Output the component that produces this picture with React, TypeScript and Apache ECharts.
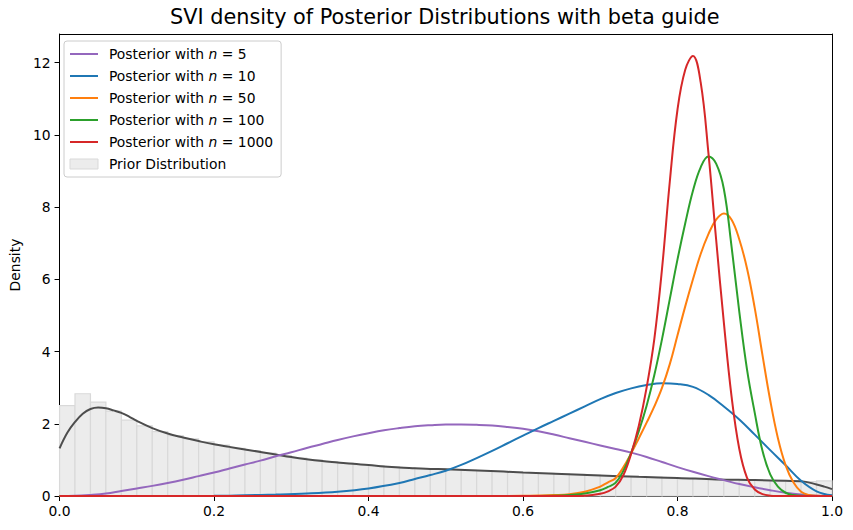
import React, { useEffect, useRef } from 'react';
import * as echarts from 'echarts';

const FONT = 'DejaVu Sans';

// Prior histogram: 50 bins of width 0.02 on [0, 1]
const PRIOR_BIN_WIDTH = 0.02;
const PRIOR_HEIGHTS = [
  2.5, 2.83, 2.6, 2.35, 2.1, 1.94, 1.78, 1.67, 1.58, 1.5,
  1.41, 1.32, 1.26, 1.19, 1.12, 1.05, 1.0, 0.95, 0.91, 0.87,
  0.84, 0.81, 0.78, 0.76, 0.75, 0.73, 0.71, 0.7, 0.68, 0.66,
  0.65, 0.63, 0.61, 0.6, 0.58, 0.56, 0.54, 0.53, 0.52, 0.5,
  0.49, 0.47, 0.46, 0.45, 0.44, 0.43, 0.42, 0.41, 0.4, 0.42,
];

// Prior KDE
const KDE_X = [0, 0.01, 0.02, 0.03, 0.04, 0.05, 0.06, 0.07, 0.08, 0.09, 0.1, 0.12, 0.14, 0.16, 0.18, 0.2, 0.22, 0.24, 0.26, 0.28, 0.3, 0.32, 0.34, 0.36, 0.38, 0.4, 0.42, 0.44, 0.46, 0.48, 0.5, 0.55, 0.6, 0.65, 0.7, 0.75, 0.8, 0.85, 0.9, 0.94, 0.96, 0.98, 0.99, 1.0];
const KDE_Y = [1.32, 1.75, 2.05, 2.28, 2.41, 2.45, 2.43, 2.37, 2.3, 2.2, 2.08, 1.88, 1.73, 1.62, 1.52, 1.43, 1.36, 1.29, 1.22, 1.15, 1.08, 1.02, 0.97, 0.93, 0.89, 0.86, 0.82, 0.79, 0.77, 0.75, 0.74, 0.7, 0.65, 0.61, 0.57, 0.53, 0.5, 0.46, 0.44, 0.42, 0.41, 0.32, 0.26, 0.19];

// Posterior n = 5
const N5_X = [0, 0.02, 0.04, 0.06, 0.08, 0.1, 0.12, 0.14, 0.16, 0.18, 0.2, 0.22, 0.24, 0.26, 0.28, 0.3, 0.32, 0.34, 0.36, 0.38, 0.4, 0.42, 0.44, 0.46, 0.48, 0.5, 0.52, 0.54, 0.56, 0.58, 0.6, 0.62, 0.64, 0.66, 0.68, 0.7, 0.72, 0.74, 0.76, 0.78, 0.8, 0.82, 0.84, 0.86, 0.88, 0.9, 0.92, 0.94, 0.96, 0.98, 1.0];
const N5_Y = [0, 0.005, 0.03, 0.07, 0.14, 0.21, 0.28, 0.36, 0.45, 0.55, 0.65, 0.76, 0.87, 0.98, 1.1, 1.21, 1.33, 1.44, 1.55, 1.65, 1.74, 1.82, 1.88, 1.93, 1.96, 1.98, 1.98, 1.97, 1.95, 1.91, 1.86, 1.79, 1.7, 1.6, 1.5, 1.4, 1.3, 1.2, 1.08, 0.94, 0.8, 0.67, 0.55, 0.44, 0.33, 0.24, 0.16, 0.09, 0.04, 0.01, 0];

// Posterior n = 10
const N10_X = [0, 0.1, 0.2, 0.24, 0.28, 0.32, 0.36, 0.4, 0.44, 0.46, 0.48, 0.5, 0.52, 0.54, 0.56, 0.58, 0.6, 0.62, 0.64, 0.66, 0.68, 0.7, 0.72, 0.74, 0.76, 0.78, 0.8, 0.82, 0.84, 0.86, 0.88, 0.9, 0.92, 0.94, 0.96, 0.98, 1.0];
const N10_Y = [0, 0, 0.005, 0.02, 0.04, 0.07, 0.12, 0.21, 0.36, 0.47, 0.58, 0.7, 0.86, 1.05, 1.25, 1.46, 1.67, 1.88, 2.08, 2.28, 2.48, 2.68, 2.85, 2.98, 3.07, 3.12, 3.1, 3.02, 2.8, 2.48, 2.12, 1.7, 1.27, 0.85, 0.42, 0.13, 0.02];

// Posterior n = 50
const N50_X = [0, 0.55, 0.6, 0.62, 0.64, 0.66, 0.68, 0.7, 0.71, 0.72, 0.73, 0.74, 0.75, 0.76, 0.77, 0.78, 0.79, 0.8, 0.81, 0.82, 0.83, 0.84, 0.85, 0.86, 0.87, 0.88, 0.89, 0.9, 0.91, 0.92, 0.93, 0.94, 0.95, 0.96, 0.97, 0.98, 1.0];
const N50_Y = [0, 0, 0.005, 0.012, 0.025, 0.05, 0.12, 0.26, 0.38, 0.5, 0.8, 1.18, 1.6, 2.03, 2.48, 3.0, 3.65, 4.45, 5.25, 6.0, 6.7, 7.25, 7.65, 7.82, 7.65, 7.1, 6.3, 5.2, 3.9, 2.65, 1.6, 0.85, 0.38, 0.12, 0.03, 0.005, 0];

// Posterior n = 100
const N100_X = [0, 0.6, 0.64, 0.66, 0.68, 0.7, 0.71, 0.72, 0.73, 0.74, 0.75, 0.76, 0.77, 0.78, 0.79, 0.8, 0.81, 0.82, 0.83, 0.84, 0.85, 0.86, 0.87, 0.88, 0.89, 0.9, 0.91, 0.92, 0.93, 0.94, 0.95, 0.96, 0.98, 1.0];
const N100_Y = [0, 0, 0.01, 0.03, 0.07, 0.16, 0.25, 0.37, 0.7, 1.2, 1.8, 2.5, 3.35, 4.35, 5.45, 6.55, 7.55, 8.45, 9.1, 9.4, 9.2, 8.5, 6.9, 5.1, 3.5, 2.3, 1.25, 0.6, 0.26, 0.09, 0.025, 0.005, 0, 0];

// Posterior n = 1000
const N1000_X = [0, 0.6, 0.66, 0.68, 0.7, 0.71, 0.72, 0.73, 0.74, 0.75, 0.76, 0.77, 0.78, 0.79, 0.8, 0.81, 0.82, 0.83, 0.84, 0.85, 0.86, 0.87, 0.88, 0.89, 0.9, 0.91, 0.92, 0.93, 0.95, 1.0];
const N1000_Y = [0, 0, 0.003, 0.01, 0.06, 0.13, 0.26, 0.58, 1.17, 1.95, 3.0, 4.35, 6.3, 8.7, 10.7, 11.8, 12.18, 11.45, 9.5, 7.1, 4.8, 2.75, 1.3, 0.5, 0.18, 0.05, 0.01, 0.002, 0, 0];

const POSTERIORS = [
  { name: 'Posterior with n = 5', color: '#9467bd', xs: N5_X, ys: N5_Y },
  { name: 'Posterior with n = 10', color: '#1f77b4', xs: N10_X, ys: N10_Y },
  { name: 'Posterior with n = 50', color: '#ff7f0e', xs: N50_X, ys: N50_Y },
  { name: 'Posterior with n = 100', color: '#2ca02c', xs: N100_X, ys: N100_Y },
  { name: 'Posterior with n = 1000', color: '#d62728', xs: N1000_X, ys: N1000_Y },
];

const zip = (xs: number[], ys: number[]) => xs.map((x, i) => [x, ys[i]]);

export default function App() {
  const ref = useRef<HTMLDivElement>(null);
  useEffect(() => {
    document.body.style.margin = '0';
    const chart = echarts.init(ref.current!, undefined, { renderer: 'svg' });
    const priorData = PRIOR_HEIGHTS.map((h, i) => [i * PRIOR_BIN_WIDTH, (i + 1) * PRIOR_BIN_WIDTH, h]);
    const fs = 13.89;
    chart.setOption({
      animation: false,
      backgroundColor: '#ffffff',
      title: {
        text: 'SVI density of Posterior Distributions with beta guide',
        left: 444.75,
        top: 6,
        textAlign: 'center',
        padding: 0,
        textStyle: { fontFamily: FONT, fontSize: 20.8, fontWeight: 'normal', color: '#000' },
      },
      grid: { left: 57.5, right: 21, top: 34, bottom: 34, containLabel: false },
      legend: {
        data: [
          ...POSTERIORS.map((p) => ({
            name: p.name,
            itemStyle: { opacity: 0 },
            lineStyle: { color: p.color, width: 2, opacity: 1 },
          })),
          { name: 'Prior Distribution', icon: 'rect', itemStyle: { color: '#ececec', borderColor: '#d9d9d9', borderWidth: 1, opacity: 1 } },
        ],
        orient: 'vertical',
        left: 64,
        top: 41,
        itemWidth: 28,
        itemHeight: 10,
        itemGap: 6,
        selectedMode: false,
        backgroundColor: 'rgba(255,255,255,0.8)',
        borderColor: '#cccccc',
        borderWidth: 1,
        borderRadius: 3,
        padding: [5, 8, 5, 5],
        formatter: (name: string) => name.replace(' n = ', ' {i|n} = '),
        textStyle: {
          fontFamily: FONT,
          fontSize: fs,
          color: '#000',
          lineHeight: 16,
          padding: [0, 0, 0, 6],
          rich: { i: { fontFamily: FONT, fontSize: fs, fontStyle: 'italic', color: '#000', lineHeight: 16 } },
        },
      },
      xAxis: [
        {
          type: 'value',
          min: 0,
          max: 1,
          interval: 0.2,
          axisLine: { show: true, onZero: false, lineStyle: { color: '#000', width: 1 } },
          axisTick: { show: true, length: 5, lineStyle: { color: '#000', width: 1 } },
          axisLabel: { margin: 8, color: '#000', fontFamily: FONT, fontSize: fs, formatter: (v: number) => v.toFixed(1) },
          splitLine: { show: false },
        },
        {
          type: 'value',
          position: 'top',
          min: 0,
          max: 1,
          axisLine: { show: true, onZero: false, lineStyle: { color: '#000', width: 1 } },
          axisTick: { show: false },
          axisLabel: { show: false },
          splitLine: { show: false },
        },
      ],
      yAxis: [
        {
          type: 'value',
          min: 0,
          max: 12.79,
          interval: 2,
          name: 'Density',
          nameLocation: 'middle',
          nameGap: 34,
          nameTextStyle: { fontFamily: FONT, fontSize: fs, color: '#000' },
          axisLine: { show: true, onZero: false, lineStyle: { color: '#000', width: 1 } },
          axisTick: { show: true, length: 5, lineStyle: { color: '#000', width: 1 } },
          axisLabel: { margin: 9, color: '#000', fontFamily: FONT, fontSize: fs, showMaxLabel: false },
          splitLine: { show: false },
        },
        {
          type: 'value',
          position: 'right',
          min: 0,
          max: 12.79,
          axisLine: { show: true, onZero: false, lineStyle: { color: '#000', width: 1 } },
          axisTick: { show: false },
          axisLabel: { show: false },
          splitLine: { show: false },
        },
      ],
      series: [
        {
          type: 'custom',
          name: 'Prior Distribution',
          xAxisIndex: 0,
          yAxisIndex: 0,
          data: priorData,
          encode: { x: [0, 1], y: 2 },
          itemStyle: { color: '#ececec', borderColor: '#d9d9d9', borderWidth: 1 },
          z: 1,
          renderItem: (params: any, api: any) => {
            const p0 = api.coord([api.value(0), api.value(2)]);
            const p1 = api.coord([api.value(1), 0]);
            return {
              type: 'rect',
              shape: { x: p0[0], y: p0[1], width: p1[0] - p0[0], height: p1[1] - p0[1] },
              style: { fill: '#ececec', stroke: '#d9d9d9', lineWidth: 1.2 },
            };
          },
        },
        {
          type: 'line',
          name: 'Prior KDE',
          xAxisIndex: 0,
          yAxisIndex: 0,
          data: zip(KDE_X, KDE_Y),
          symbol: 'none',
          smooth: 0.4,
          lineStyle: { color: '#4d4d4d', width: 2 },
          itemStyle: { color: '#4d4d4d' },
          z: 2,
        },
        ...POSTERIORS.map((p, i) => ({
          type: 'line',
          name: p.name,
          xAxisIndex: 0,
          yAxisIndex: 0,
          data: zip(p.xs, p.ys),
          symbol: 'none',
          smooth: 0.4,
          lineStyle: { color: p.color, width: 2 },
          itemStyle: { color: p.color },
          z: 3 + i,
        })),
      ],
    });
    return () => chart.dispose();
  }, []);
  return <div ref={ref} style={{ width: 853, height: 530 }} />;
}
